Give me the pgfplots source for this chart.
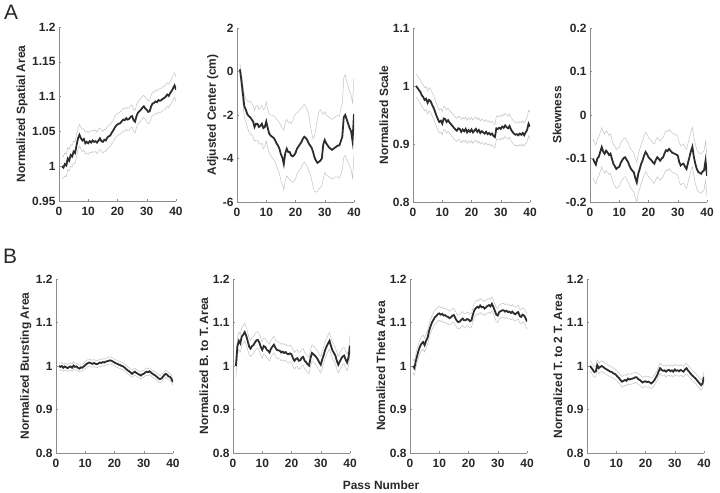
\documentclass[border=0pt]{standalone}
\usepackage{fontspec}
\setmainfont{Liberation Sans}
\usepackage{pgfplots}
\usepackage{pgfplotstable}
\pgfplotsset{compat=1.18}
\definecolor{meanc}{RGB}{45,45,45}
\definecolor{semc}{RGB}{195,195,195}
\definecolor{axc}{RGB}{140,140,140}
\definecolor{txt}{RGB}{40,40,40}

\pgfplotstableread{
x m lo hi
1 1.000 0.982 1.016
1.5 0.998 0.983 1.014
2 1.003 0.986 1.019
2.5 1.001 0.985 1.017
3 1.011 0.995 1.027
3.5 1.008 0.993 1.024
4 1.016 1.000 1.031
4.5 1.014 0.999 1.030
5 1.021 1.005 1.036
5.5 1.019 1.004 1.035
6 1.030 1.014 1.046
6.5 1.040 1.024 1.055
7 1.045 1.029 1.060
7.5 1.040 1.025 1.056
8 1.037 1.021 1.053
8.5 1.039 1.023 1.054
9 1.033 1.018 1.049
9.5 1.035 1.019 1.050
10 1.033 1.017 1.048
10.5 1.036 1.020 1.051
11 1.034 1.019 1.050
11.5 1.037 1.021 1.052
12 1.035 1.020 1.051
12.5 1.036 1.021 1.052
13 1.034 1.018 1.049
13.5 1.037 1.022 1.053
14 1.040 1.024 1.055
14.5 1.036 1.021 1.052
15 1.035 1.019 1.050
15.5 1.038 1.022 1.053
16 1.037 1.021 1.052
16.5 1.041 1.025 1.057
17 1.043 1.027 1.058
17.5 1.044 1.028 1.060
18 1.048 1.032 1.063
18.5 1.051 1.035 1.066
19 1.055 1.039 1.071
19.5 1.058 1.042 1.074
20 1.060 1.044 1.076
20.5 1.061 1.045 1.077
21 1.062 1.046 1.078
21.5 1.065 1.049 1.081
22 1.067 1.051 1.083
22.5 1.066 1.050 1.082
23 1.069 1.053 1.085
23.5 1.067 1.051 1.083
24 1.068 1.052 1.084
24.5 1.071 1.055 1.087
25 1.072 1.056 1.088
25.5 1.066 1.050 1.082
26 1.064 1.048 1.080
26.5 1.072 1.056 1.088
27 1.077 1.061 1.093
27.5 1.079 1.063 1.095
28 1.081 1.065 1.097
28.5 1.084 1.068 1.100
29 1.086 1.070 1.102
29.5 1.083 1.067 1.099
30 1.081 1.064 1.097
30.5 1.078 1.061 1.094
31 1.079 1.062 1.095
31.5 1.086 1.069 1.102
32 1.090 1.073 1.106
32.5 1.091 1.074 1.107
33 1.093 1.076 1.109
33.5 1.092 1.075 1.108
34 1.095 1.078 1.111
34.5 1.094 1.077 1.111
35 1.095 1.078 1.112
35.5 1.097 1.080 1.114
36 1.098 1.081 1.115
36.5 1.100 1.083 1.117
37 1.103 1.086 1.120
37.5 1.101 1.084 1.118
38 1.105 1.088 1.122
38.5 1.108 1.091 1.126
39 1.112 1.095 1.130
39.5 1.116 1.099 1.134
40 1.110 1.093 1.128
}\tAa

\pgfplotstableread{
x m lo hi
1 0.10 -0.10 0.35
1.5 -0.40 -0.75 -0.10
2 -1.00 -1.45 -0.60
2.5 -1.60 -2.10 -1.10
3 -1.75 -2.30 -1.25
3.5 -1.95 -2.55 -1.35
4 -2.05 -2.75 -1.40
4.5 -2.10 -2.85 -1.35
5 -2.20 -2.90 -1.45
5.5 -2.30 -3.00 -1.55
6 -2.55 -3.20 -1.80
6.5 -2.40 -3.15 -1.60
7 -2.40 -3.15 -1.55
7.5 -2.55 -3.30 -1.75
8 -2.50 -3.35 -1.65
8.5 -2.40 -3.30 -1.55
9 -2.60 -3.55 -1.75
9.5 -2.55 -3.45 -1.70
10 -2.30 -3.20 -1.40
10.5 -2.60 -3.50 -1.75
11 -2.85 -3.75 -1.95
11.5 -2.95 -3.85 -2.00
12 -3.00 -3.95 -2.00
12.5 -3.05 -4.05 -2.05
13 -3.15 -4.15 -2.10
13.5 -3.30 -4.35 -2.20
14 -3.40 -4.50 -2.25
14.5 -3.55 -4.70 -2.35
15 -3.80 -5.00 -2.50
15.5 -3.95 -5.20 -2.60
16 -4.25 -5.45 -2.70
16.5 -3.75 -5.00 -2.35
17 -3.55 -4.80 -2.20
17.5 -3.70 -4.90 -2.35
18 -3.70 -4.95 -2.30
18.5 -3.85 -5.05 -2.40
19 -3.90 -5.10 -2.30
19.5 -3.85 -5.05 -2.05
20 -3.75 -4.95 -1.95
20.5 -3.55 -4.70 -1.90
21 -3.45 -4.60 -1.85
21.5 -3.35 -4.50 -1.75
22 -3.25 -4.40 -1.70
22.5 -3.10 -4.25 -1.60
23 -3.00 -4.15 -1.50
23.5 -3.05 -4.25 -1.60
24 -3.15 -4.40 -1.75
24.5 -3.30 -4.55 -2.00
25 -3.40 -4.70 -2.40
25.5 -3.50 -4.95 -2.80
26 -3.70 -5.30 -3.10
26.5 -3.95 -5.50 -3.00
27 -4.10 -5.55 -2.60
27.5 -4.20 -5.50 -2.20
28 -4.15 -5.40 -1.85
28.5 -4.10 -5.35 -1.75
29 -4.00 -5.25 -1.90
29.5 -3.35 -4.95 -1.95
30 -3.15 -4.65 -1.85
30.5 -3.30 -4.75 -2.00
31 -3.40 -4.80 -2.05
31.5 -3.50 -4.85 -2.10
32 -3.55 -4.90 -2.15
32.5 -3.60 -4.95 -2.20
33 -3.55 -4.90 -2.15
33.5 -3.50 -4.85 -2.10
34 -3.45 -4.85 -2.05
34.5 -3.40 -4.85 -2.00
35 -3.40 -4.90 -2.05
35.5 -3.20 -4.75 -1.75
36 -3.00 -4.50 -1.45
36.5 -2.10 -3.95 -0.30
37 -2.00 -3.85 -0.15
37.5 -2.20 -4.05 -0.45
38 -2.40 -4.20 -0.70
38.5 -2.60 -4.35 -0.90
39 -2.75 -4.50 -1.10
39.5 -3.20 -4.90 -1.45
40 -1.95 -3.80 -0.30
}\tAb

\pgfplotstableread{
x m lo hi
1 1.000 0.981 1.021
1.5 0.997 0.978 1.018
2 0.993 0.974 1.014
2.5 0.990 0.971 1.011
3 0.984 0.965 1.005
3.5 0.981 0.962 1.002
4 0.976 0.957 0.997
4.5 0.978 0.959 0.999
5 0.971 0.952 0.992
5.5 0.976 0.957 0.997
6 0.974 0.955 0.995
6.5 0.968 0.949 0.989
7 0.963 0.944 0.984
7.5 0.956 0.937 0.977
8 0.949 0.930 0.970
8.5 0.943 0.924 0.964
9 0.938 0.919 0.959
9.5 0.940 0.921 0.961
10 0.935 0.916 0.956
10.5 0.944 0.925 0.965
11 0.943 0.924 0.964
11.5 0.938 0.919 0.959
12 0.941 0.922 0.962
12.5 0.937 0.918 0.958
13 0.934 0.915 0.955
13.5 0.931 0.912 0.952
14 0.928 0.909 0.949
14.5 0.925 0.906 0.946
15 0.923 0.904 0.944
15.5 0.927 0.908 0.948
16 0.926 0.907 0.947
16.5 0.921 0.902 0.942
17 0.925 0.906 0.946
17.5 0.922 0.903 0.943
18 0.926 0.907 0.947
18.5 0.920 0.901 0.941
19 0.924 0.905 0.945
19.5 0.921 0.902 0.942
20 0.925 0.906 0.946
20.5 0.920 0.901 0.941
21 0.923 0.904 0.944
21.5 0.926 0.907 0.947
22 0.921 0.902 0.942
22.5 0.924 0.905 0.945
23 0.919 0.900 0.940
23.5 0.922 0.903 0.943
24 0.920 0.901 0.941
24.5 0.918 0.899 0.939
25 0.921 0.902 0.942
25.5 0.917 0.898 0.938
26 0.919 0.900 0.940
26.5 0.916 0.897 0.937
27 0.918 0.899 0.939
27.5 0.914 0.895 0.935
28 0.912 0.893 0.933
28.5 0.927 0.908 0.948
29 0.926 0.907 0.947
29.5 0.928 0.909 0.949
30 0.926 0.907 0.947
30.5 0.930 0.911 0.951
31 0.928 0.909 0.949
31.5 0.932 0.913 0.953
32 0.929 0.910 0.950
32.5 0.927 0.908 0.948
33 0.931 0.912 0.952
33.5 0.925 0.906 0.946
34 0.921 0.902 0.942
34.5 0.918 0.899 0.939
35 0.916 0.897 0.937
35.5 0.917 0.898 0.938
36 0.915 0.896 0.936
36.5 0.918 0.899 0.939
37 0.916 0.897 0.937
37.5 0.919 0.900 0.940
38 0.915 0.896 0.936
38.5 0.920 0.901 0.941
39 0.924 0.904 0.946
39.5 0.935 0.914 0.958
40 0.930 0.908 0.955
}\tAc

\pgfplotstableread{
x m lo hi
1 -0.100 -0.145 -0.055
1.5 -0.108 -0.153 -0.063
2 -0.114 -0.159 -0.069
2.5 -0.100 -0.145 -0.055
3 -0.096 -0.141 -0.051
3.5 -0.085 -0.130 -0.040
4 -0.074 -0.119 -0.029
4.5 -0.084 -0.129 -0.039
5 -0.089 -0.134 -0.044
5.5 -0.082 -0.127 -0.037
6 -0.086 -0.131 -0.041
6.5 -0.092 -0.137 -0.047
7 -0.089 -0.134 -0.044
7.5 -0.101 -0.146 -0.056
8 -0.112 -0.157 -0.067
8.5 -0.118 -0.163 -0.073
9 -0.124 -0.169 -0.079
9.5 -0.121 -0.166 -0.076
10 -0.119 -0.164 -0.074
10.5 -0.110 -0.155 -0.065
11 -0.104 -0.149 -0.059
11.5 -0.099 -0.144 -0.054
12 -0.097 -0.142 -0.052
12.5 -0.103 -0.148 -0.058
13 -0.108 -0.153 -0.063
13.5 -0.117 -0.162 -0.072
14 -0.124 -0.169 -0.079
14.5 -0.128 -0.173 -0.083
15 -0.132 -0.177 -0.087
15.5 -0.145 -0.190 -0.100
16 -0.155 -0.200 -0.110
16.5 -0.135 -0.180 -0.090
17 -0.124 -0.169 -0.079
17.5 -0.112 -0.157 -0.067
18 -0.104 -0.149 -0.059
18.5 -0.093 -0.138 -0.048
19 -0.085 -0.130 -0.040
19.5 -0.090 -0.135 -0.045
20 -0.097 -0.142 -0.052
20.5 -0.101 -0.146 -0.056
21 -0.104 -0.149 -0.059
21.5 -0.109 -0.154 -0.064
22 -0.112 -0.157 -0.067
22.5 -0.103 -0.148 -0.058
23 -0.097 -0.142 -0.052
23.5 -0.101 -0.146 -0.056
24 -0.105 -0.150 -0.060
24.5 -0.100 -0.145 -0.055
25 -0.097 -0.142 -0.052
25.5 -0.088 -0.133 -0.043
26 -0.081 -0.126 -0.036
26.5 -0.083 -0.128 -0.038
27 -0.078 -0.123 -0.033
27.5 -0.082 -0.127 -0.037
28 -0.086 -0.131 -0.041
28.5 -0.088 -0.133 -0.043
29 -0.089 -0.134 -0.044
29.5 -0.091 -0.136 -0.046
30 -0.093 -0.138 -0.048
30.5 -0.108 -0.153 -0.063
31 -0.116 -0.161 -0.071
31.5 -0.113 -0.158 -0.068
32 -0.112 -0.157 -0.067
32.5 -0.119 -0.164 -0.074
33 -0.124 -0.169 -0.079
33.5 -0.110 -0.155 -0.065
34 -0.097 -0.142 -0.052
34.5 -0.083 -0.128 -0.038
35 -0.073 -0.118 -0.028
35.5 -0.096 -0.141 -0.051
36 -0.112 -0.157 -0.067
36.5 -0.124 -0.169 -0.079
37 -0.131 -0.176 -0.086
37.5 -0.133 -0.178 -0.088
38 -0.135 -0.180 -0.090
38.5 -0.130 -0.175 -0.085
39 -0.127 -0.172 -0.082
39.5 -0.105 -0.150 -0.060
40 -0.140 -0.185 -0.095
}\tAd

\pgfplotstableread{
x m lo hi
1 1.000 0.992 1.008
1.5 0.998 0.990 1.006
2 1.000 0.992 1.008
2.5 0.996 0.988 1.004
3 0.999 0.991 1.007
3.5 0.997 0.989 1.005
4 0.995 0.987 1.003
4.5 0.998 0.990 1.006
5 0.999 0.991 1.007
5.5 0.996 0.988 1.004
6 1.001 0.993 1.009
6.5 0.998 0.990 1.006
7 0.999 0.991 1.007
7.5 0.996 0.988 1.004
8 0.994 0.986 1.002
8.5 0.997 0.989 1.005
9 0.996 0.988 1.004
9.5 0.999 0.991 1.007
10 1.002 0.994 1.010
10.5 1.005 0.997 1.013
11 1.007 0.999 1.015
11.5 1.008 1.000 1.016
12 1.006 0.998 1.014
12.5 1.005 0.997 1.013
13 1.007 0.999 1.015
13.5 1.005 0.997 1.013
14 1.004 0.996 1.012
14.5 1.006 0.998 1.014
15 1.008 1.000 1.016
15.5 1.007 0.999 1.015
16 1.009 1.001 1.017
16.5 1.008 1.000 1.016
17 1.010 1.002 1.018
17.5 1.011 1.003 1.019
18 1.012 1.004 1.020
18.5 1.013 1.005 1.021
19 1.012 1.004 1.020
19.5 1.010 1.002 1.018
20 1.008 1.000 1.016
20.5 1.006 0.998 1.014
21 1.005 0.997 1.013
21.5 1.003 0.995 1.011
22 1.002 0.994 1.010
22.5 1.000 0.992 1.008
23 0.999 0.991 1.007
23.5 0.996 0.988 1.004
24 0.993 0.985 1.001
24.5 0.990 0.982 0.998
25 0.988 0.980 0.996
25.5 0.985 0.977 0.993
26 0.982 0.974 0.990
26.5 0.985 0.977 0.993
27 0.987 0.979 0.995
27.5 0.984 0.976 0.992
28 0.982 0.974 0.990
28.5 0.980 0.972 0.988
29 0.978 0.970 0.986
29.5 0.981 0.973 0.989
30 0.982 0.974 0.990
30.5 0.985 0.977 0.993
31 0.987 0.979 0.995
31.5 0.986 0.978 0.994
32 0.988 0.980 0.996
32.5 0.985 0.977 0.993
33 0.982 0.974 0.990
33.5 0.980 0.972 0.988
34 0.978 0.970 0.986
34.5 0.975 0.967 0.983
35 0.972 0.964 0.980
35.5 0.970 0.962 0.978
36 0.971 0.963 0.979
36.5 0.975 0.967 0.983
37 0.979 0.971 0.987
37.5 0.982 0.974 0.990
38 0.980 0.972 0.988
38.5 0.976 0.968 0.984
39 0.975 0.967 0.983
39.5 0.970 0.962 0.978
40 0.963 0.955 0.971
}\tBa

\pgfplotstableread{
x m lo hi
1 1.000 0.975 1.015
1.5 1.045 1.025 1.063
2 1.058 1.038 1.078
2.5 1.052 1.032 1.072
3 1.068 1.048 1.088
3.5 1.072 1.052 1.092
4 1.078 1.058 1.098
4.5 1.070 1.050 1.090
5 1.058 1.038 1.078
5.5 1.045 1.026 1.064
6 1.040 1.021 1.059
6.5 1.046 1.027 1.065
7 1.048 1.029 1.067
7.5 1.054 1.035 1.073
8 1.059 1.040 1.078
8.5 1.060 1.041 1.079
9 1.054 1.035 1.073
9.5 1.044 1.025 1.063
10 1.037 1.018 1.056
10.5 1.046 1.027 1.065
11 1.044 1.025 1.063
11.5 1.038 1.019 1.057
12 1.035 1.016 1.054
12.5 1.031 1.012 1.050
13 1.040 1.021 1.059
13.5 1.045 1.026 1.064
14 1.049 1.030 1.068
14.5 1.042 1.023 1.061
15 1.037 1.018 1.056
15.5 1.036 1.017 1.055
16 1.035 1.016 1.054
16.5 1.031 1.012 1.050
17 1.033 1.014 1.052
17.5 1.030 1.011 1.049
18 1.032 1.013 1.051
18.5 1.028 1.009 1.047
19 1.027 1.008 1.046
19.5 1.029 1.010 1.048
20 1.027 1.008 1.046
20.5 1.018 0.999 1.037
21 1.012 0.993 1.031
21.5 1.016 0.997 1.035
22 1.018 0.999 1.037
22.5 1.012 0.993 1.031
23 1.013 0.994 1.032
23.5 1.019 1.000 1.038
24 1.021 1.002 1.040
24.5 1.012 0.993 1.031
25 1.009 0.990 1.028
25.5 1.004 0.985 1.023
26 1.001 0.982 1.020
26.5 1.018 0.999 1.037
27 1.030 1.011 1.049
27.5 1.027 1.008 1.046
28 1.024 1.005 1.043
28.5 1.020 1.001 1.039
29 1.015 0.996 1.034
29.5 1.008 0.989 1.027
30 1.003 0.984 1.022
30.5 1.015 0.996 1.034
31 1.025 1.006 1.044
31.5 1.037 1.018 1.056
32 1.045 1.026 1.064
32.5 1.052 1.033 1.071
33 1.058 1.039 1.077
33.5 1.046 1.027 1.065
34 1.036 1.017 1.055
34.5 1.030 1.011 1.049
35 1.024 1.005 1.043
35.5 1.012 0.993 1.031
36 1.003 0.984 1.022
36.5 1.010 0.991 1.029
37 1.017 0.998 1.036
37.5 1.022 1.003 1.041
38 1.024 1.005 1.043
38.5 1.015 0.996 1.034
39 1.008 0.989 1.027
39.5 1.020 1.001 1.039
40 1.047 1.026 1.070
}\tBb

\pgfplotstableread{
x m lo hi
1 1.000 0.984 1.016
1.5 0.995 0.979 1.011
2 1.012 0.996 1.028
2.5 1.025 1.009 1.041
3 1.037 1.021 1.053
3.5 1.046 1.030 1.062
4 1.052 1.036 1.068
4.5 1.055 1.039 1.071
5 1.048 1.032 1.064
5.5 1.058 1.042 1.074
6 1.065 1.049 1.081
6.5 1.080 1.064 1.096
7 1.091 1.075 1.107
7.5 1.100 1.084 1.116
8 1.106 1.090 1.122
8.5 1.112 1.096 1.128
9 1.115 1.099 1.131
9.5 1.119 1.103 1.135
10 1.121 1.105 1.137
10.5 1.118 1.102 1.134
11 1.120 1.104 1.136
11.5 1.116 1.100 1.132
12 1.117 1.101 1.133
12.5 1.114 1.098 1.130
13 1.113 1.097 1.129
13.5 1.110 1.094 1.126
14 1.112 1.096 1.128
14.5 1.116 1.100 1.132
15 1.117 1.101 1.133
15.5 1.110 1.094 1.126
16 1.104 1.088 1.120
16.5 1.101 1.085 1.117
17 1.102 1.086 1.118
17.5 1.106 1.090 1.122
18 1.109 1.093 1.125
18.5 1.105 1.089 1.121
19 1.105 1.089 1.121
19.5 1.108 1.092 1.124
20 1.107 1.091 1.123
20.5 1.103 1.087 1.119
21 1.105 1.089 1.121
21.5 1.118 1.102 1.134
22 1.128 1.112 1.144
22.5 1.133 1.117 1.149
23 1.136 1.120 1.152
23.5 1.134 1.118 1.150
24 1.139 1.123 1.155
24.5 1.135 1.119 1.151
25 1.136 1.120 1.152
25.5 1.132 1.116 1.148
26 1.135 1.119 1.151
26.5 1.138 1.122 1.154
27 1.140 1.124 1.156
27.5 1.137 1.121 1.153
28 1.143 1.127 1.159
28.5 1.136 1.120 1.152
29 1.127 1.111 1.143
29.5 1.118 1.102 1.134
30 1.116 1.100 1.132
30.5 1.124 1.108 1.140
31 1.126 1.110 1.142
31.5 1.128 1.112 1.144
32 1.128 1.112 1.144
32.5 1.125 1.109 1.141
33 1.127 1.111 1.143
33.5 1.124 1.108 1.140
34 1.125 1.109 1.141
34.5 1.122 1.106 1.138
35 1.125 1.109 1.141
35.5 1.121 1.105 1.137
36 1.119 1.103 1.135
36.5 1.122 1.106 1.138
37 1.124 1.108 1.140
37.5 1.115 1.099 1.131
38 1.113 1.097 1.129
38.5 1.118 1.102 1.134
39 1.116 1.100 1.132
39.5 1.110 1.094 1.126
40 1.102 1.084 1.120
}\tBc

\pgfplotstableread{
x m lo hi
1 1.000 0.988 1.012
1.5 0.996 0.984 1.008
2 0.991 0.979 1.003
2.5 0.986 0.974 0.998
3 0.988 0.976 1.000
3.5 1.002 0.990 1.014
4 0.995 0.983 1.007
4.5 0.998 0.986 1.010
5 1.000 0.988 1.012
5.5 0.998 0.986 1.010
6 0.995 0.983 1.007
6.5 0.993 0.981 1.005
7 0.991 0.979 1.003
7.5 0.989 0.977 1.001
8 0.987 0.975 0.999
8.5 0.986 0.974 0.998
9 0.983 0.971 0.995
9.5 0.982 0.970 0.994
10 0.979 0.967 0.991
10.5 0.975 0.963 0.987
11 0.972 0.960 0.984
11.5 0.967 0.955 0.979
12 0.964 0.952 0.976
12.5 0.966 0.954 0.978
13 0.968 0.956 0.980
13.5 0.966 0.954 0.978
14 0.971 0.959 0.983
14.5 0.969 0.957 0.981
15 0.970 0.958 0.982
15.5 0.971 0.959 0.983
16 0.972 0.960 0.984
16.5 0.974 0.962 0.986
17 0.974 0.962 0.986
17.5 0.970 0.958 0.982
18 0.968 0.956 0.980
18.5 0.965 0.953 0.977
19 0.962 0.950 0.974
19.5 0.964 0.952 0.976
20 0.965 0.953 0.977
20.5 0.963 0.951 0.975
21 0.964 0.952 0.976
21.5 0.962 0.950 0.974
22 0.960 0.948 0.972
22.5 0.963 0.951 0.975
23 0.967 0.955 0.979
23.5 0.973 0.961 0.985
24 0.979 0.967 0.991
24.5 0.988 0.976 1.000
25 0.995 0.983 1.007
25.5 0.991 0.979 1.003
26 0.989 0.977 1.001
26.5 0.990 0.978 1.002
27 0.987 0.975 0.999
27.5 0.990 0.978 1.002
28 0.991 0.979 1.003
28.5 0.988 0.976 1.000
29 0.990 0.978 1.002
29.5 0.987 0.975 0.999
30 0.992 0.980 1.004
30.5 0.989 0.977 1.001
31 0.990 0.978 1.002
31.5 0.988 0.976 1.000
32 0.991 0.979 1.003
32.5 0.989 0.977 1.001
33 0.987 0.975 0.999
33.5 0.992 0.980 1.004
34 0.995 0.983 1.007
34.5 0.990 0.978 1.002
35 0.986 0.974 0.998
35.5 0.982 0.970 0.994
36 0.978 0.966 0.990
36.5 0.975 0.963 0.987
37 0.972 0.960 0.984
37.5 0.968 0.956 0.980
38 0.964 0.952 0.976
38.5 0.960 0.948 0.972
39 0.956 0.944 0.968
39.5 0.960 0.948 0.972
40 0.975 0.963 0.987
}\tBd

\pgfplotsset{
  panel/.style={
    scale only axis, width=117bp, height=174bp,
    anchor=south west,
    axis x line*=bottom, axis y line*=left,
    axis line style={axc, line width=0.6bp},
    xmin=0, xmax=40, xtick={0,10,20,30,40},
    tick style={axc, line width=0.5bp}, major tick length=2bp, tick align=inside,
    tick label style={font=\fontsize{12}{14}\selectfont\bfseries, text=txt},
    xticklabel style={yshift=-2.5bp},
    /pgf/number format/assume math mode=true,
    yticklabel style={/pgf/number format/fixed, /pgf/number format/precision=2},
    ylabel style={font=\fontsize{12}{14}\selectfont\bfseries, text=txt, inner sep=1bp},
  },
  semline/.style={semc, line width=0.5bp},
  meanline/.style={meanc, line width=1.8bp},
}
\newcommand{\panelplots}[1]{%
  \addplot[semline] table[x=x,y=lo]{#1};
  \addplot[semline] table[x=x,y=hi]{#1};
  \addplot[meanline] table[x=x,y=m]{#1};
}

\begin{document}
\begin{tikzpicture}
\useasboundingbox (0,0) rectangle (720bp,-493bp);

\begin{axis}[panel, at={(59bp,-201bp)}, ymin=0.95, ymax=1.2,
  ytick={0.95,1,1.05,1.1,1.15,1.2}, ylabel={Normalized Spatial Area}]
\panelplots{\tAa}
\end{axis}

\begin{axis}[panel, at={(237bp,-202bp)}, ymin=-6, ymax=2,
  ytick={-6,-4,-2,0,2}, ylabel={Adjusted Center (cm)}]
\panelplots{\tAb}
\end{axis}

\begin{axis}[panel, at={(413bp,-202bp)}, ymin=0.8, ymax=1.1,
  ytick={0.8,0.9,1,1.1}, ylabel={Normalized Scale}]
\panelplots{\tAc}
\end{axis}

\begin{axis}[panel, at={(590bp,-202bp)}, ymin=-0.2, ymax=0.2,
  ytick={-0.2,-0.1,0,0.1,0.2}, ylabel={Skewness}]
\panelplots{\tAd}
\end{axis}

\begin{axis}[panel, at={(56bp,-453bp)}, ymin=0.8, ymax=1.2,
  ytick={0.8,0.9,1,1.1,1.2}, ylabel={Normalized Bursting Area}]
\panelplots{\tBa}
\end{axis}

\begin{axis}[panel, at={(233bp,-453bp)}, ymin=0.8, ymax=1.2,
  ytick={0.8,0.9,1,1.1,1.2}, ylabel={Normalized B. to T. Area}]
\panelplots{\tBb}
\end{axis}

\begin{axis}[panel, at={(410bp,-453bp)}, ymin=0.8, ymax=1.2,
  ytick={0.8,0.9,1,1.1,1.2}, ylabel={Normalized Theta Area}]
\panelplots{\tBc}
\end{axis}

\begin{axis}[panel, at={(587bp,-453bp)}, ymin=0.8, ymax=1.2,
  ytick={0.8,0.9,1,1.1,1.2}, ylabel={Normalized T. to 2 T. Area}]
\panelplots{\tBd}
\end{axis}

\node[font=\fontsize{21}{24}\selectfont, text=txt] at (11bp,-12bp) {A};
\node[font=\fontsize{21}{24}\selectfont, text=txt] at (10bp,-256bp) {B};
\node[font=\fontsize{12}{14}\selectfont\bfseries, text=txt] at (381bp,-485bp) {Pass Number};
\end{tikzpicture}
\end{document}
